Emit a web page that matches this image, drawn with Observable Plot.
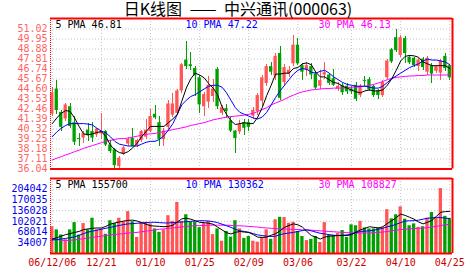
<!DOCTYPE html>
<html><head><meta charset="utf-8">
<script src="https://cdn.jsdelivr.net/npm/d3@7"></script>
<script src="https://cdn.jsdelivr.net/npm/@observablehq/plot@0.6"></script>
<style>
body{margin:0;background:#fff;}
#chart{position:relative;width:472px;height:273px;overflow:hidden;background:#fff;}
#title{position:absolute;left:2px;top:0;width:472px;text-align:center;font-family:"Noto Sans CJK SC";font-size:16px;line-height:17px;word-spacing:4px;color:#000;}
#price{position:absolute;left:0;top:0;}
#volume{position:absolute;left:0;top:172px;}
</style></head>
<body>
<div id="chart"><div id="price"></div><div id="volume"></div><div id="title">日K线图 —— 中兴通讯(000063)</div></div>
<script>
// ---- data ----
const open = [41.9,44.6,42.1,41.4,42.7,41.0,39.3,39.35,40.2,40.05,39.7,39.8,40.05,38.6,38.1,36.3,37.65,38.7,39.3,38.5,39.1,39.45,40.05,
41.9,41.0,39.2,40.5,41.8,42.0,44.4,47.7,47.2,46.8,45.8,42.7,43.2,43.8,46.7,42.0,42.5,41.2,40.1,40.0,41.0,41.0,
41.7,42.2,43.3,45.2,47.0,46.0,48.4,45.3,46.2,47.3,49.3,47.1,46.6,47.0,46.2,44.9,46.1,46.1,45.7,44.6,45.0,44.9,44.6,
45.0,43.9,45.5,45.6,44.9,44.4,43.9,45.8,48.8,50.1,48.2,50.0,48.0,47.9,47.0,47.8,46.4,47.1,46.5,46.3,48.1,47.1];
const close = [44.2,42.3,40.5,42.9,40.6,38.9,39.2,39.8,39.6,39.35,40.3,40.05,38.6,37.9,36.4,37.2,38.3,39.2,38.45,39.1,40.05,40.2,41.66,
41.5,39.2,40.1,43.0,43.0,44.4,47.2,47.0,47.0,46.0,42.9,44.0,45.0,44.6,42.7,42.6,42.2,40.1,39.3,40.8,40.4,40.5,
42.3,43.9,45.8,47.0,46.4,48.1,43.6,46.9,46.6,49.3,47.3,46.4,47.1,46.1,44.7,45.5,46.35,45.2,45.0,44.9,44.2,44.3,44.3,
43.5,44.9,45.4,44.5,43.9,43.9,45.3,47.6,47.5,48.7,50.1,48.4,47.4,47.1,47.7,46.9,47.9,46.2,47.0,47.6,46.8,45.8];
const high = [44.8,45.5,42.3,43.0,43.0,41.7,39.8,40.05,40.95,41.0,40.4,42.0,40.2,39.1,38.27,37.4,38.45,39.45,40.4,39.2,40.2,41.3,42.37,
42.8,41.7,40.4,43.4,44.1,44.6,47.3,49.7,48.5,47.0,46.0,44.2,45.9,45.6,46.9,42.8,42.9,41.7,40.2,41.2,41.3,41.3,
42.6,44.1,46.0,47.2,47.4,48.4,49.2,47.2,47.0,50.3,50.0,47.3,47.4,47.3,46.4,46.6,47.4,46.3,46.7,45.3,45.2,45.2,44.9,
45.3,45.1,45.9,45.8,45.0,44.6,45.5,47.8,48.9,51.0,50.3,50.2,48.2,48.0,47.9,48.0,48.1,47.3,47.1,47.8,48.4,47.2];
const low = [41.7,41.9,40.05,41.1,40.4,38.6,38.45,38.8,39.0,38.9,39.45,39.15,38.45,37.7,36.1,36.1,37.45,38.5,38.4,38.3,38.9,39.2,39.9,
41.3,38.5,38.5,40.2,41.5,41.8,44.1,46.7,46.6,43.8,42.0,41.7,42.5,43.2,42.4,41.8,41.4,39.9,37.7,39.7,39.6,40.1,
41.3,41.8,42.7,44.9,46.0,45.5,43.4,44.9,45.8,47.0,47.1,45.5,45.9,45.6,44.5,44.6,45.6,45.0,44.9,44.3,43.9,44.0,44.0,
43.3,43.7,44.9,44.3,43.7,43.5,43.7,45.6,47.3,48.5,48.0,47.3,47.2,46.9,46.5,46.6,46.0,45.2,46.3,45.5,46.5,45.5];
const volume = [85000,75000,59000,44000,75000,98000,58000,95000,75000,112000,75000,78000,61000,104000,95000,112000,101000,133000,101000,51000,
99000,99000,94000,78000,67000,75000,120000,102000,162000,102000,123000,99000,99000,82000,95000,102000,60000,78000,39000,70000,52000,104000,
78000,48000,54000,39000,36000,51000,75000,45000,107000,115000,114000,96000,99000,70000,54000,41000,45000,54000,35000,98000,
57000,57000,64000,73000,51000,91000,88000,102000,81000,78000,78000,81000,82000,139000,110000,123000,148000,109000,88000,94000,
83000,85000,112000,130000,112000,206000,118000,110000];
const ma5 = [40.9,41.5,42.0,42.3,42.2,41.5,40.6,39.8,39.7,39.8,39.95,40.05,39.5,38.6,38.1,37.8,37.7,37.9,38.3,38.8,39.5,40.05,40.6,
40.6,40.6,40.6,41.0,41.4,41.9,43.3,44.7,45.7,46.3,46.1,45.8,45.2,44.7,44.0,42.7,41.9,41.2,40.8,40.9,41.0,40.9,
40.9,41.6,42.6,43.9,45.0,46.2,46.2,46.3,46.3,46.8,46.9,47.3,47.4,47.2,46.4,45.9,45.9,45.6,45.3,45.2,44.9,44.7,44.5,
44.3,44.2,44.4,44.5,44.4,44.4,44.5,45.0,45.7,46.6,47.6,48.1,48.2,48.15,48.0,47.5,47.3,47.1,47.1,47.1,47.1,46.8];
const ma10 = [39.5,40.0,40.4,40.7,40.9,40.9,40.9,40.9,40.85,40.75,40.4,40.1,39.9,39.5,39.0,38.7,38.6,38.5,38.5,38.5,38.7,38.9,39.0,
39.0,39.2,39.6,40.2,40.9,41.9,42.9,43.4,43.8,44.0,44.3,44.6,44.9,45.0,45.0,44.8,44.2,43.4,42.6,42.1,41.9,41.7,
41.5,41.4,41.6,42.1,42.9,43.7,44.4,45.0,45.6,46.2,46.6,46.8,46.7,46.4,46.3,46.5,46.6,46.3,45.9,45.6,45.3,45.1,45.0,
44.9,44.9,44.9,44.8,44.7,44.7,44.9,45.3,45.7,46.0,46.3,46.6,46.9,47.1,47.3,47.6,47.8,47.7,47.7,47.6,47.5,47.2];
const ma30 = [37.0,37.2,37.35,37.55,37.7,37.9,38.05,38.25,38.4,38.55,38.7,38.85,39.0,39.1,39.2,39.3,39.3,39.35,39.45,39.55,39.65,39.75,39.8,
39.85,39.95,40.05,40.15,40.25,40.35,40.45,40.55,40.7,40.8,40.9,41.0,41.15,41.3,41.4,41.5,41.6,41.65,41.7,41.75,41.8,41.9,
42.0,42.2,42.4,42.6,42.9,43.1,43.3,43.5,43.75,43.95,44.15,44.3,44.4,44.5,44.55,44.6,44.65,44.65,44.7,44.7,44.7,44.75,44.8,
44.8,44.85,44.9,45.0,45.1,45.25,45.4,45.6,45.75,45.85,45.9,45.95,46.0,46.0,46.05,46.05,46.1,46.1,46.1,46.1,46.1,46.13];
const vma5 = [46,50,55,60,63,67,70,76,78,80,81,81,86,93,97,100,103,105,106,103,98,93,88,
87,86,85,86,90,100,110,112,109,104,99,98,96,93,84,75,66,62,67,
70,68,67,60,52,51,52,58,63,72,83,89,94,91,84,70,57,52,46,52,55,56,57,57,57,60,68,75,80,85,83,81,85,95,104,114,125,121,115,109,100,94,99,105,118,131,133,134].map(v => v * 1000);
const vma10 = [43,44,46,48,50,53,58,63,68,71,74,77,80,83,86,89,92,94,95,96,97,98,99,
99,98,97,97,98,99,100,101,102,103,104,104,103,101,98,93,88,83,77,
72,70,67,63,59,57,55,54,55,60,63,65,67,70,73,75,72,68,64,62,60,58,57,58,59,62,66,70,71,72,74,77,80,85,88,93,98,103,104,104,106,109,112,113,115,114,112,111].map(v => v * 1000);
const vma30 = [46,44,42,41,42,43,45,47,49,51,53,55,57,59,60,62,63,65,66,67,69,71,73,75,77,78,80,81,83,84,86,87,88,89,89,90,90,90,90,90,89,88,
88,87,86,85,84,82,81,80,79,78,78,77,77,76,75,75,74,73,72,71,70,69,68,67,66,66,65,65,65,65,66,67,68,70,72,74,76,77,78,79,80,81,82,84,86,89,91,93].map(v => v * 1000);

const priceTicks = [51.02,49.95,48.88,47.81,46.74,45.67,44.60,43.53,42.46,41.39,40.32,39.25,38.18,37.11,36.04];
const volTicks = [204042,170035,136028,102021,68014,34007];
const dateLabels = ["06/12/06","12/21","01/10","01/25","02/09","03/06","03/22","04/10","04/25"];
const dateIdx = [0,11,22,33,44,55,67,78,89];
const maNames = ["5 PMA","10 PMA","30 PMA"];
const priceLegendValues = ["46.81","47.22","46.13"];
const volLegendValues = ["155700","130362","108827"];

// ---- styles ----
const RED = "#ff5555", GREEN = "#00a000";
const MA_COLORS = ["#000000", "#0000ff", "#ff00ff"];
const MONO = "DejaVu Sans Mono";
const HALF = 0.37;
const GRID = {stroke: "#c4c4c4", strokeDasharray: "1,2"};

const n = close.length;
const rows = d3.range(n).map(i => ({
  i, open: open[i], close: close[i], high: high[i], low: low[i], volume: volume[i],
  ma5: ma5[i], ma10: ma10[i], ma30: ma30[i], vma5: vma5[i], vma10: vma10[i], vma30: vma30[i],
  up: close[i] >= open[i]
}));
const up = rows.filter(d => d.up), down = rows.filter(d => !d.up);
const xDomain = [-0.4, n - 0.4];
const priceDomain = [36.04, 52.15];
const volDomain = [0, 238049];
const dates = dateIdx.map((i, k) => ({i, label: dateLabels[k]}));

function legend(names, values) {
  const offsets = [5, 135, 268];
  return names.map((name, k) => Plot.text([name + " " + values[k]], {
    text: d => d, frameAnchor: "top-left", dx: offsets[k], dy: 2, lineAnchor: "top",
    fill: MA_COLORS[k], fontFamily: MONO, fontSize: 10
  }));
}
function borders(yDom) {
  return [
    Plot.ruleX([xDomain[0]], {stroke: "#ff0000", strokeDasharray: "1,1", strokeWidth: 1}),
    Plot.ruleY([yDom[1]], {stroke: "#ff0000", strokeWidth: 2}),
    Plot.ruleY([yDom[0]], {stroke: "#ff0000", strokeWidth: 2}),
    Plot.ruleX([xDomain[1]], {stroke: "#ff0000", strokeWidth: 2})
  ];
}

const price = Plot.plot({
  width: 472, height: 172, marginTop: 18, marginBottom: 3.5, marginLeft: 50, marginRight: 20,
  x: {domain: xDomain, axis: null},
  y: {domain: priceDomain, axis: null},
  style: {background: "transparent", overflow: "visible"},
  marks: [
    Plot.ruleY(priceTicks, {y: d => d, ...GRID}),
    Plot.ruleX(dateIdx, {x: d => d, ...GRID}),
    Plot.ruleX(up, {x: "i", y1: "low", y2: "high", stroke: RED, shapeRendering: "crispEdges"}),
    Plot.ruleX(down, {x: "i", y1: "low", y2: "high", stroke: GREEN, shapeRendering: "crispEdges"}),
    Plot.rect(up, {x1: d => d.i - HALF, x2: d => d.i + HALF, y1: "open", y2: "close", fill: RED}),
    Plot.rect(down, {x1: d => d.i - HALF, x2: d => d.i + HALF, y1: "close", y2: "open", fill: GREEN}),
    Plot.line(rows, {x: "i", y: "ma30", stroke: MA_COLORS[2], strokeWidth: 1}),
    Plot.line(rows, {x: "i", y: "ma10", stroke: MA_COLORS[1], strokeWidth: 1}),
    Plot.line(rows, {x: "i", y: "ma5", stroke: MA_COLORS[0], strokeWidth: 1}),
    Plot.text(priceTicks, {y: d => d, text: d => d.toFixed(2), frameAnchor: "left", textAnchor: "end", dx: -3,
      fill: "#ff6464", fontFamily: MONO, fontSize: 10}),
    ...legend(maNames, priceLegendValues),
    ...borders(priceDomain)
  ]
});
document.getElementById("price").appendChild(price);

const vol = Plot.plot({
  width: 472, height: 101, marginTop: 6, marginBottom: 20, marginLeft: 50, marginRight: 20,
  x: {domain: xDomain, axis: null},
  y: {domain: volDomain, axis: null},
  style: {background: "transparent", overflow: "visible"},
  marks: [
    Plot.ruleY(volTicks, {y: d => d, ...GRID}),
    Plot.ruleX(dateIdx, {x: d => d, ...GRID}),
    Plot.rect(up, {x1: d => d.i - HALF, x2: d => d.i + HALF, y1: 0, y2: "volume", fill: RED}),
    Plot.rect(down, {x1: d => d.i - HALF, x2: d => d.i + HALF, y1: 0, y2: "volume", fill: GREEN}),
    Plot.line(rows, {x: "i", y: "vma30", stroke: MA_COLORS[2], strokeWidth: 1}),
    Plot.line(rows, {x: "i", y: "vma10", stroke: MA_COLORS[1], strokeWidth: 1}),
    Plot.line(rows, {x: "i", y: "vma5", stroke: MA_COLORS[0], strokeWidth: 1}),
    Plot.text(volTicks, {y: d => d, text: d => String(d), frameAnchor: "left", textAnchor: "end", dx: -3,
      fill: "#0000ee", fontFamily: MONO, fontSize: 10}),
    Plot.text(dates, {x: "i", text: "label", frameAnchor: "bottom", lineAnchor: "top", dy: 5,
      fill: "#cc0000", fontFamily: MONO, fontSize: 10}),
    ...legend(maNames, volLegendValues),
    ...borders(volDomain)
  ]
});
document.getElementById("volume").appendChild(vol);
</script>
</body></html>
